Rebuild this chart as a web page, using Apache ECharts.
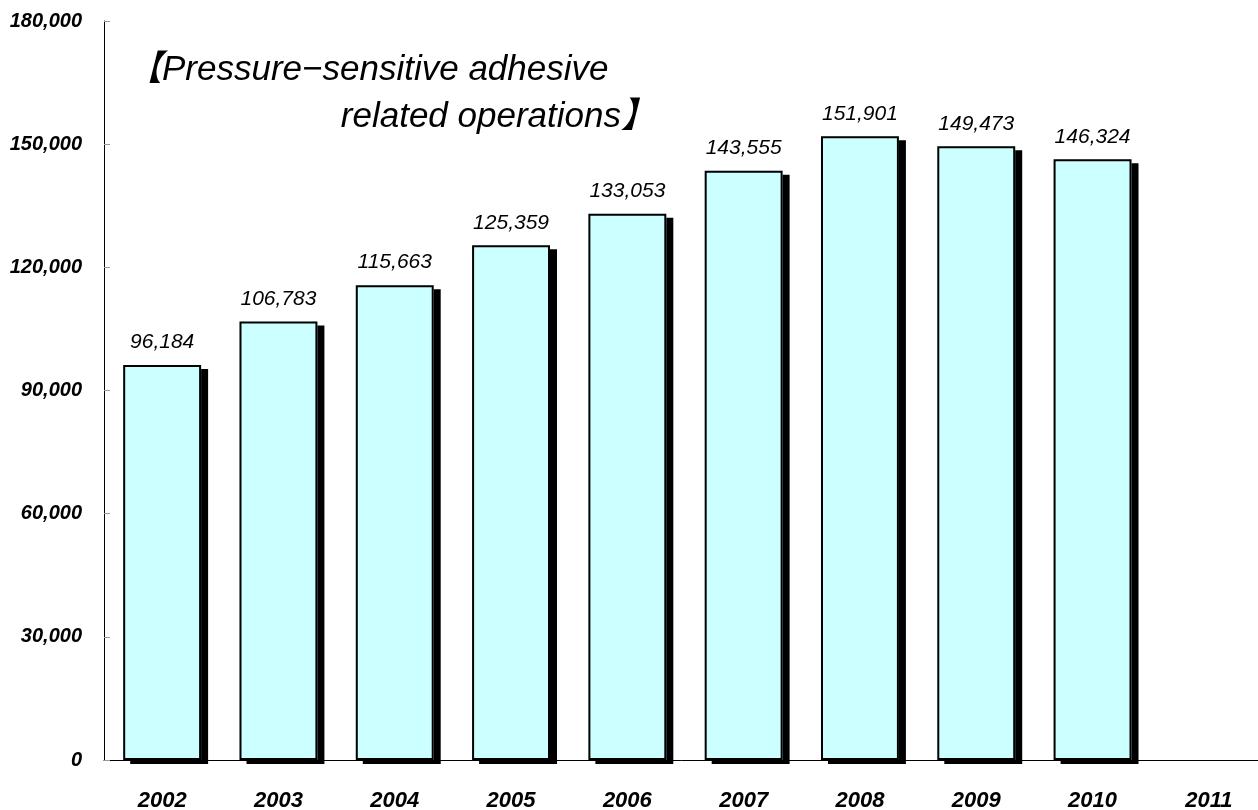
<!DOCTYPE html>
<html>
<head>
<meta charset="utf-8">
<script src="https://cdn.jsdelivr.net/npm/echarts@6/dist/echarts.min.js"></script>
<style>
  html, body { margin: 0; padding: 0; background: #fff; }
  #chart { width: 1258px; height: 810px; }
</style>
</head>
<body>
<div id="chart"></div>
<script>
// Yearly totals for pressure-sensitive adhesive related operations
const years = ['2002', '2003', '2004', '2005', '2006', '2007', '2008', '2009', '2010', '2011'];
const totals = [96184, 106783, 115663, 125359, 133053, 143555, 151901, 149473, 146324, null];
const titleLines = ['【Pressure\u2212sensitive adhesive', 'related operations】'];

const fmt = v => Number(v).toLocaleString('en-US');
const FONT = '"Liberation Sans", Arial, "Noto Sans CJK JP", sans-serif';
const titleStyle = { fontFamily: FONT, fontStyle: 'italic', fontWeight: 'normal', fontSize: 35, color: '#000' };

const chart = echarts.init(document.getElementById('chart'), null, { renderer: 'canvas' });

chart.setOption({
  animation: false,
  backgroundColor: '#ffffff',
  title: [
    { text: titleLines[0], left: 127, top: 53, padding: 0, textStyle: titleStyle },
    { text: titleLines[1], right: 1258 - 656, top: 100, padding: 0, textStyle: titleStyle }
  ],
  grid: { left: 104, top: 21, width: 1163, height: 739, outerBoundsMode: 'none', containLabel: false },
  xAxis: {
    type: 'category',
    data: years,
    axisLine: { lineStyle: { color: '#000', width: 1 } },
    axisTick: { inside: true, length: 6, lineStyle: { color: '#999' } },
    axisLabel: {
      margin: 30, color: '#000', fontFamily: FONT, fontStyle: 'italic', fontWeight: 'bold', fontSize: 22
    }
  },
  yAxis: {
    type: 'value',
    min: 0, max: 180000, interval: 30000,
    splitLine: { show: false },
    axisLine: { show: true, lineStyle: { color: '#000', width: 1 } },
    axisTick: { show: true, inside: true, length: 6, lineStyle: { color: '#999' } },
    axisLabel: {
      margin: 22, color: '#000', fontFamily: FONT, fontStyle: 'italic', fontWeight: 'bold', fontSize: 20,
      formatter: v => fmt(v)
    }
  },
  series: [
    {
      // filled bars casting a solid drop shadow
      type: 'bar',
      data: totals,
      barWidth: '67%',
      z: 2,
      itemStyle: {
        color: '#CCFFFF',
        borderWidth: 0,
        shadowColor: '#000',
        shadowBlur: 0,
        shadowOffsetX: 7,
        shadowOffsetY: 4
      },
      label: {
        show: true,
        position: 'top',
        distance: 12,
        color: '#000',
        fontFamily: FONT,
        fontStyle: 'italic',
        fontSize: 21,
        formatter: p => p.value == null ? '' : fmt(p.value)
      }
    },
    {
      // black outline drawn over the filled bars
      type: 'bar',
      data: totals,
      barWidth: '67%',
      barGap: '-100%',
      z: 3,
      silent: true,
      itemStyle: {
        color: 'rgba(0,0,0,0)',
        borderColor: '#000',
        borderWidth: 2
      }
    }
  ]
});
</script>
</body>
</html>
